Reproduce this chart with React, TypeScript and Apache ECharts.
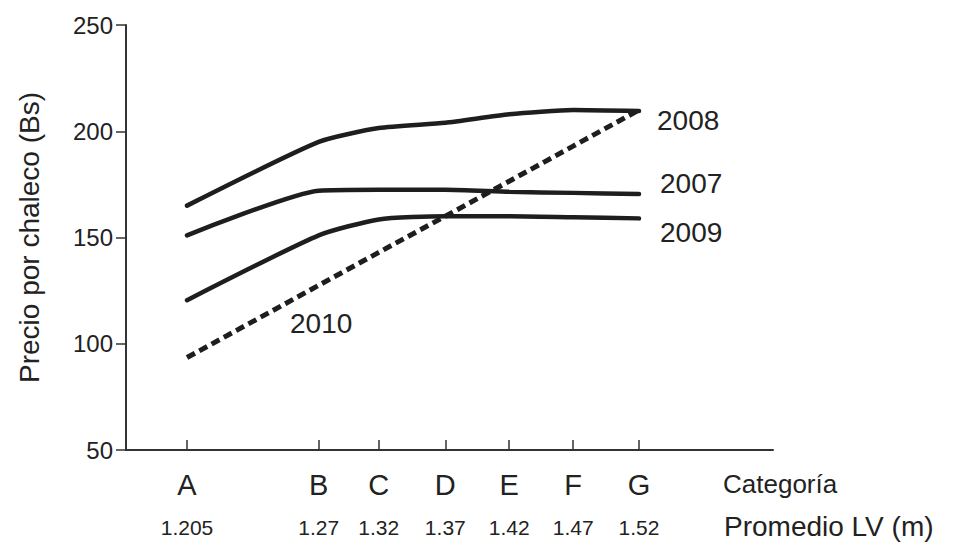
import React, { useEffect, useRef } from "react";
import * as echarts from "echarts";

// Categories and their mean LV (m)
const categories = ["A", "B", "C", "D", "E", "F", "G"];
const lvLabels = ["1.205", "1.27", "1.32", "1.37", "1.42", "1.47", "1.52"];
// horizontal placement of each category on the drawn axis (as in the source figure)
const axisPos = [0, 2.04, 2.97, 4.0, 4.99, 5.98, 7];

const yearNames = ["2008", "2007", "2009", "2010"];
const v2008 = [165, 195, 201.5, 204, 208, 210, 209.5];
const v2007 = [151, 172, 172.5, 172.5, 171.5, 171, 170.5];
const v2009 = [120.5, 151, 158.5, 160, 160, 159.5, 159];
const v2010 = [93.5, 127.5, 143, 160, 176.5, 193, 210];

const yTicks = [50, 100, 150, 200, 250];

const FONT = "'Liberation Sans', Arial, Helvetica, sans-serif";
const INK = "#222";

export default function App() {
  const ref = useRef<HTMLDivElement>(null);

  useEffect(() => {
    if (!ref.current) return;
    const chart = echarts.init(ref.current, undefined, { renderer: "svg" });

    const mk = (vals: number[]) => vals.map((v, i) => [axisPos[i], v]);

    const solid = (name: string, vals: number[], dist: number, off: number) => ({
      name,
      type: "line",
      data: mk(vals),
      smooth: 0.2,
      symbol: "none",
      lineStyle: { color: "#1e1e1e", width: 4.5, cap: "round" },
      endLabel: {
        show: true,
        formatter: "{a}",
        fontFamily: FONT,
        fontSize: 28,
        color: INK,
        distance: dist,
        offset: [0, off],
      },
      z: 3,
    });

    chart.setOption({
      animation: false,
      backgroundColor: "#fff",
      grid: { left: 126, right: 180, top: 25, bottom: 95, containLabel: false },
      xAxis: {
        type: "value",
        min: -0.945,
        max: 9.075,
        splitLine: { show: false },
        axisLine: { show: true, onZero: false, lineStyle: { color: "#333", width: 2 } },
        axisTick: {
          show: true,
          inside: true,
          length: 10,
          customValues: axisPos,
          lineStyle: { color: "#333", width: 1.5 },
        },
        axisLabel: {
          show: true,
          customValues: axisPos,
          margin: 14,
          formatter: (val: number) => {
            let idx = 0;
            let best = Infinity;
            axisPos.forEach((p, i) => {
              const d = Math.abs(p - val);
              if (d < best) {
                best = d;
                idx = i;
              }
            });
            return `{l|${categories[idx]}}\n{n|${lvLabels[idx]}}`;
          },
          rich: {
            l: { fontFamily: FONT, fontSize: 29, lineHeight: 42, color: INK },
            n: { fontFamily: FONT, fontSize: 21, lineHeight: 42, color: INK },
          },
        },
      },
      yAxis: {
        type: "value",
        min: 50,
        max: 250,
        interval: 50,
        splitLine: { show: false },
        axisLine: { show: true, onZero: false, lineStyle: { color: "#333", width: 2 } },
        axisTick: { show: true, length: 10, lineStyle: { color: "#333", width: 1.5 } },
        axisLabel: {
          margin: 13,
          fontFamily: FONT,
          fontSize: 24,
          color: INK,
          formatter: (v: number) => (yTicks.includes(v) ? String(v) : ""),
        },
        name: "Precio por chaleco (Bs)",
        nameLocation: "middle",
        nameRotate: 90,
        nameGap: 83,
        nameTextStyle: { fontFamily: FONT, fontSize: 28, color: INK },
      },
      graphic: [
        {
          type: "text",
          left: 723,
          top: 471,
          style: { text: "Categoría", fontFamily: FONT, fontSize: 26, fill: INK },
        },
        {
          type: "text",
          left: 724,
          top: 512,
          style: { text: "Promedio LV (m)", fontFamily: FONT, fontSize: 28, fill: INK },
        },
        {
          type: "text",
          left: 290,
          top: 309,
          style: { text: yearNames[3], fontFamily: FONT, fontSize: 28, fill: INK },
        },
      ],
      series: [
        solid(yearNames[0], v2008, 18, 9),
        solid(yearNames[1], v2007, 21, -10),
        solid(yearNames[2], v2009, 21, 14),
        {
          name: yearNames[3],
          type: "line",
          data: mk(v2010),
          symbol: "none",
          lineStyle: { color: "#1e1e1e", width: 5, type: [9, 5] },
          z: 2,
        },
      ],
    });

    return () => chart.dispose();
  }, []);

  return (
    <div
      ref={ref}
      style={{ position: "fixed", left: 0, top: 0, width: 953, height: 545, background: "#fff" }}
    />
  );
}
